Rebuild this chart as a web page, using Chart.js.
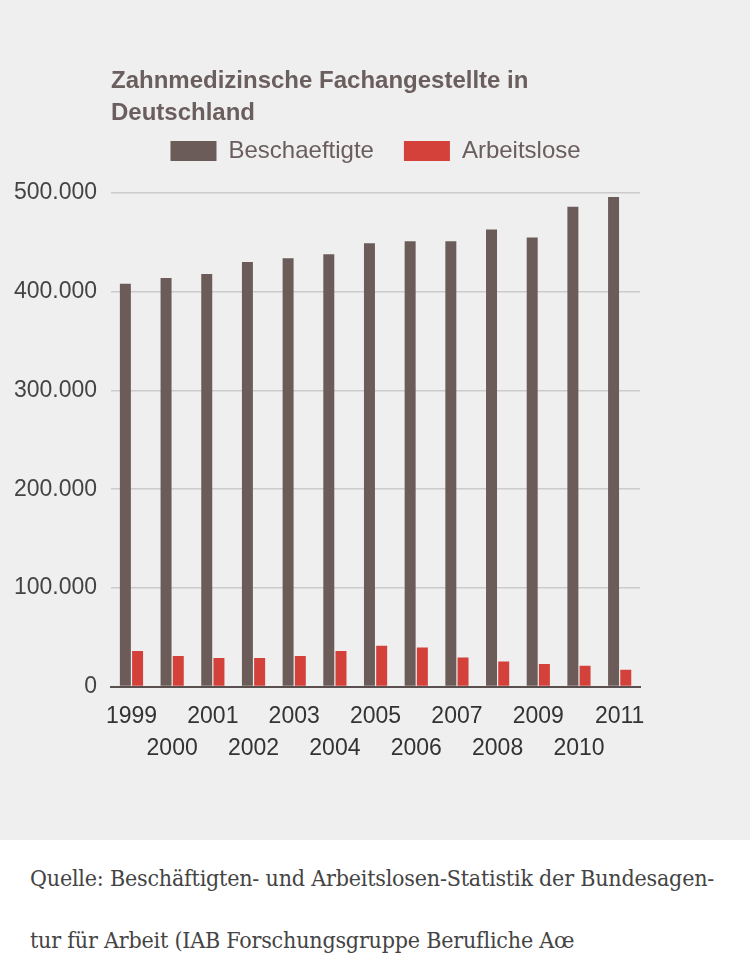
<!DOCTYPE html>
<html>
<head>
<meta charset="utf-8">
<script src="https://cdn.jsdelivr.net/npm/chart.js@4.4.1/dist/chart.umd.min.js"></script>
<style>
  html, body { margin: 0; padding: 0; background: #fff; }
  #wrap { position: relative; width: 750px; height: 840px; background: #efefef; }
  #title {
    position: absolute; left: 111px; top: 64px;
    font: bold 24px "Liberation Sans", Arial, sans-serif; line-height: 32px;
    color: #6b5e5e;
  }
  #chart { position: absolute; left: 0; top: 0; }
  #source {
    padding: 7px 0 0 30px;
    font: 23px "DejaVu Serif Condensed", "Liberation Serif", serif; line-height: 62px;
    color: #444; letter-spacing: -0.2px;
  }
</style>
</head>
<body>
<div id="wrap">
  <canvas id="chart" width="750" height="840"></canvas>
  <div id="title">Zahnmedizinsche Fachangestellte in<br>Deutschland</div>
</div>
<div id="source">Quelle: Beschäftigten- und Arbeitslosen-Statistik der Bundesagen-<br>tur für Arbeit (IAB Forschungsgruppe Berufliche Aœ</div>
<script>
var YEARS = ["1999","2000","2001","2002","2003","2004","2005","2006","2007","2008","2009","2010","2011"];
var BESCHAEFTIGTE = [408000, 414000, 418000, 430000, 434000, 438000, 449000, 451000, 451000, 463000, 455000, 486000, 496000];
var ARBEITSLOSE = [36000, 31000, 29000, 29000, 31000, 36000, 41500, 39500, 29500, 25500, 23000, 21000, 17000];
var Y_TICKS = [0, 100000, 200000, 300000, 400000, 500000];

function fmt(v) {
  return String(v).replace(/\B(?=(\d{3})+(?!\d))/g, ".");
}

var FONT = "'Liberation Sans', Arial, sans-serif";

// extra room between legend and plot
var legendGap = {
  id: "legendGap",
  beforeInit: function(chart) {
    var fit = chart.legend.fit;
    chart.legend.fit = function() {
      fit.call(this);
      this.height += 20;
    };
  }
};

new Chart(document.getElementById("chart").getContext("2d"), {
  type: "bar",
  data: {
    labels: YEARS,
    datasets: [
      { label: "Beschaeftigte", data: BESCHAEFTIGTE, backgroundColor: "#6b5c5a",
        barPercentage: 0.9, categoryPercentage: 0.6 },
      { label: "Arbeitslose", data: ARBEITSLOSE, backgroundColor: "#d4413a",
        barPercentage: 0.9, categoryPercentage: 0.6 }
    ]
  },
  plugins: [legendGap],
  options: {
    responsive: false,
    animation: false,
    layout: { padding: { top: 109, left: 0, right: 110, bottom: 69 } },
    plugins: {
      title: { display: false },
      tooltip: { enabled: false },
      legend: {
        display: true,
        fullSize: false,
        labels: {
          boxWidth: 46, boxHeight: 20, padding: 30,
          color: "#6a5d5d", font: { family: FONT, size: 24 }
        }
      }
    },
    scales: {
      x: {
        grid: { display: false },
        border: { display: true, color: "#5a5050", width: 2 },
        ticks: {
          autoSkip: false, maxRotation: 0, padding: 6,
          color: "#333", font: { family: FONT, size: 23, lineHeight: 1.4 },
          callback: function(v, i) { return i % 2 === 0 ? [YEARS[i], ""] : ["", YEARS[i]]; }
        }
      },
      y: {
        min: 0, max: 500000,
        afterBuildTicks: function(s) { s.ticks = Y_TICKS.map(function(v) { return { value: v }; }); },
        grid: { color: "#cbcbcb", lineWidth: 1.5, drawTicks: false },
        border: { display: false },
        ticks: {
          padding: 14, color: "#444", font: { family: FONT, size: 23 },
          callback: function(v) { return fmt(v); }
        }
      }
    }
  }
});
</script>
</body>
</html>
